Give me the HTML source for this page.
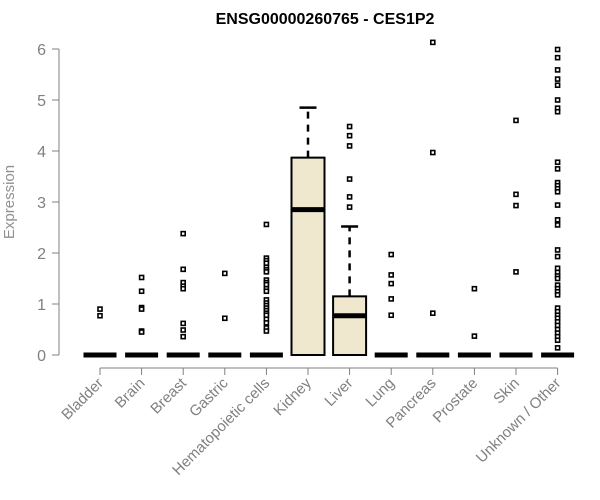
<!DOCTYPE html>
<html><head><meta charset="utf-8"><style>body{margin:0;background:#fff}svg{display:block}</style></head>
<body>
<svg id="chart" width="600" height="500" xmlns="http://www.w3.org/2000/svg" font-family="Liberation Sans, sans-serif">
<text x="325" y="24" text-anchor="middle" font-weight="bold" font-size="16">ENSG00000260765 - CES1P2</text>
<text transform="translate(14,202) rotate(-90)" text-anchor="middle" font-size="15" fill="#909090">Expression</text>
<g id="axes"></g><g id="plot"></g>
</svg>
<script>
const categories=["Bladder","Brain","Breast","Gastric","Hematopoietic cells","Kidney","Liver","Lung","Pancreas","Prostate","Skin","Unknown / Other"];
const q1=[0,0,0,0,0,0,0,0,0,0,0,0];
const medians=[0,0,0,0,0,2.85,0.77,0,0,0,0,0];
const q3=[0,0,0,0,0,3.87,1.15,0,0,0,0,0];
const whiskerHigh=[0,0,0,0,0,4.85,2.52,0,0,0,0,0];
const outliers=[
[0.9,0.77],
[1.52,1.25,0.93,0.9,0.47,0.45],
[2.38,1.68,1.42,1.35,1.3,0.62,0.49,0.36],
[1.6,0.72],
[2.56,1.9,1.85,1.8,1.72,1.67,1.63,1.47,1.42,1.38,1.3,1.25,1.08,1.02,0.97,0.92,0.87,0.82,0.78,0.7,0.63,0.53,0.47],
[],
[4.48,4.3,4.1,3.45,3.1,2.9],
[1.97,1.57,1.4,1.1,0.78],
[6.13,3.97,0.82],
[1.3,0.37],
[4.6,3.15,2.93,1.63],
[5.99,5.83,5.59,5.41,5.29,5.0,4.84,4.77,3.78,3.65,3.38,3.32,3.26,3.2,2.94,2.65,2.55,2.06,1.93,1.7,1.62,1.55,1.5,1.37,1.3,1.24,1.18,0.92,0.85,0.78,0.72,0.65,0.58,0.5,0.43,0.36,0.29,0.14]
];
const yTicks=[0,1,2,3,4,5,6];
const NS="http://www.w3.org/2000/svg";
const y=v=>355-v*51;
const x=i=>100+i*41.6;
function mk(parent,tag,attrs){const e=document.createElementNS(NS,tag);for(const k in attrs)e.setAttribute(k,attrs[k]);parent.appendChild(e);return e;}
const axes=document.getElementById('axes'),plot=document.getElementById('plot');
let el=mk(axes,'line',{x1:59,x2:59,y1:y(0),y2:y(6),stroke:'#808080'});


yTicks.forEach(t=>{
 let l=mk(axes,'line',{x1:52,x2:59,y1:y(t),y2:y(t),stroke:'#808080'});
 
 
 let tx=mk(axes,'text',{x:46,y:y(t)+6,'text-anchor':'end','font-size':16,fill:'#808080'});
 tx.textContent=t;
 
 
});
el=mk(axes,'line',{x1:x(0),x2:x(categories.length-1),y1:368,y2:368,stroke:'#808080'});


categories.forEach((c,i)=>{
 let l=mk(axes,'line',{x1:x(i),x2:x(i),y1:368,y2:375,stroke:'#808080'});
 
 
 let tx=mk(axes,'text',{transform:`translate(${x(i)+4},384) rotate(-45)`,'text-anchor':'end','font-size':15,fill:'#808080'});
 tx.textContent=c;
 
 
});
const hw=16.5;
categories.forEach((c,i)=>{
 const cx=x(i);
 const g=mk(plot,'g',{});
 
 
 if(whiskerHigh[i]>q3[i]){
  mk(g,'line',{x1:cx,x2:cx,y1:y(q3[i]),y2:y(whiskerHigh[i]),stroke:'#000','stroke-width':2.5,'stroke-dasharray':'7,6'});
  mk(g,'line',{x1:cx-8.5,x2:cx+8.5,y1:y(whiskerHigh[i]),y2:y(whiskerHigh[i]),stroke:'#000','stroke-width':2.5});
 }
 if(q3[i]>q1[i]){
  mk(g,'rect',{x:cx-hw,y:y(q3[i]),width:hw*2,height:y(q1[i])-y(q3[i]),fill:'#EFE8CF',stroke:'#000','stroke-width':2});
 }
 mk(g,'line',{x1:cx-hw,x2:cx+hw,y1:y(medians[i]),y2:y(medians[i]),stroke:'#000','stroke-width':5});
 outliers[i].forEach(v=>{
  const p=mk(g,'rect',{x:cx-2,y:y(v)-2,width:4,height:4,fill:'#fff',stroke:'#000','stroke-width':1.6});
  
  
 });
});
</script>
</body></html>
